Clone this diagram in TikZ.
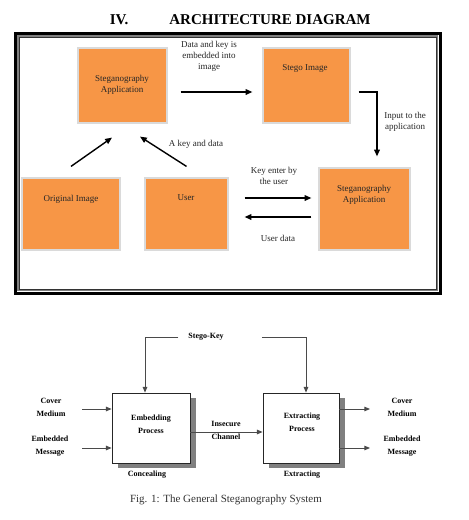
\documentclass[tikz,border=0pt]{standalone}
\usepackage{fontspec}
\setmainfont{Liberation Serif}
\usetikzlibrary{arrows.meta,positioning,shadows}
\definecolor{boxorange}{HTML}{F79646}
\definecolor{boxedge}{HTML}{DADADA}
\definecolor{shadowgray}{HTML}{808080}
\definecolor{linegray}{HTML}{4A4A4A}
\tikzset{
  obox/.style={draw=boxedge,line width=1.2pt,fill=boxorange,inner sep=0pt},
  otext/.style={font=\fontsize{9}{11}\selectfont,align=center,inner sep=0pt,text=black!85},
  ar/.style={-{Triangle[length=2.4mm,width=2mm]},line width=1.4pt},
  pbox/.style={draw=black!85,line width=0.8pt,fill=white,inner sep=0pt,
    drop shadow={shadow xshift=6pt,shadow yshift=-5pt,fill=shadowgray,opacity=1}},
  ptext/.style={font=\fontsize{8}{13}\selectfont\bfseries,align=center,inner sep=0pt},
  par/.style={-{Triangle[length=2mm,width=1.6mm]},line width=0.9pt,draw=linegray}
}
\begin{document}
\begin{tikzpicture}[x=1pt,y=-1pt]
\useasboundingbox[fill=white] (0,0) rectangle (469,520);
\node[font=\fontsize{15}{15}\selectfont\bfseries,inner sep=0pt] (secno) at (119,20) {IV.};
\node[font=\fontsize{15}{15}\selectfont\bfseries,inner sep=0pt] (title) at (270,20) {ARCHITECTURE DIAGRAM};
\draw[line width=3pt] (15,33) rectangle (440,293);
\draw[gray,line width=1.6pt] (17.8,35.8) rectangle (437.2,290.2);
\draw[black!80,line width=0.6pt] (19.2,37.2) rectangle (435.8,288.8);
\node[obox,minimum width=89pt,minimum height=75pt] (app1) at (122.5,85.5) {};
\node[obox,minimum width=87pt,minimum height=75pt] (stego) at (306.5,85.5) {};
\node[obox,minimum width=98pt,minimum height=72pt] (orig) at (71,214) {};
\node[obox,minimum width=83pt,minimum height=72pt] (user) at (186.5,214) {};
\node[obox,minimum width=91pt,minimum height=82pt] (app2) at (364.5,209) {};
\node[otext] (app1t) at (122,85) {Steganography\\Application};
\node[otext] (stegot) at (305,68) {Stego Image};
\node[otext] (origt) at (71,199) {Original Image};
\node[otext] (usert) at (186,198) {User};
\node[otext] (app2t) at (364,195) {Steganography\\Application};
\draw[ar] ([xshift=13pt,yshift=-6.5pt]app1.east) -- ([xshift=-10pt,yshift=-6.5pt]stego.west);
\node[otext] (embl) at (209,56) {Data and key is\\embedded into\\image};
\draw[ar] ([xshift=8pt,yshift=-6.5pt]stego.east) -| ([xshift=12.5pt,yshift=11pt]app2.north);
\node[otext] (inl) at (405,122) {Input to the\\application};
\draw[ar] ([yshift=11pt]orig.north) -- ([xshift=-10.5pt,yshift=-14pt]app1.south);
\draw[ar] ([yshift=11pt]user.north) -- ([xshift=17.5pt,yshift=-13pt]app1.south);
\node[otext] (keyl) at (196,144) {A key and data};
\draw[ar] ([xshift=16pt,yshift=16pt]user.east) -- ([xshift=-7pt,yshift=11pt]app2.west);
\draw[ar] ([xshift=-7pt,yshift=-8pt]app2.west) -- ([xshift=16pt,yshift=-3pt]user.east);
\node[otext] (enterl) at (274,176) {Key enter by\\the user};
\node[otext] (datal) at (278,238) {User data};
\node[pbox,minimum width=78pt,minimum height=70pt] (emb) at (151,428) {};
\node[pbox,minimum width=76pt,minimum height=70pt] (ext) at (301,428) {};
\node[ptext] (embt) at (151,424) {Embedding\\Process};
\node[ptext] (extt) at (302,422) {Extracting\\Process};
\node[ptext] (skey) at (206,337) {Stego-Key};
\draw[par] ([xshift=-10pt]skey.west) -| ([xshift=-6pt]emb.north);
\draw[par] ([xshift=38pt]skey.east) -| ([xshift=5pt]ext.north);
\node[ptext] (chan) at (226,430) {Insecure\\Channel};
\draw[par] ([yshift=-4pt]emb.east) -- ([yshift=-4pt]ext.west);
\node[ptext] (covin) at (51,407) {Cover\\Medium};
\node[ptext] (msgin) at (50,446) {Embedded\\Message};
\coordinate (covs) at (82,409);
\coordinate (msgs) at (82,448);
\draw[par] (covs) -- ([yshift=19pt]emb.west);
\draw[par] (msgs) -- ([yshift=-20pt]emb.west);
\coordinate (cove) at (370,409);
\coordinate (msge) at (370,448);
\draw[par] ([yshift=19pt]ext.east) -- (cove);
\draw[par] ([yshift=-20pt]ext.east) -- (msge);
\node[ptext] (covout) at (402,407) {Cover\\Medium};
\node[ptext] (msgout) at (402,446) {Embedded\\Message};
\node[ptext] (concl) at (147,475) {Concealing};
\node[ptext] (extl) at (302,475) {Extracting};
\node[font=\fontsize{11}{11}\selectfont,text=black!80,inner sep=0pt] (caption) at (226,500) {Fig. 1: The General Steganography System};
\end{tikzpicture}
\end{document}
